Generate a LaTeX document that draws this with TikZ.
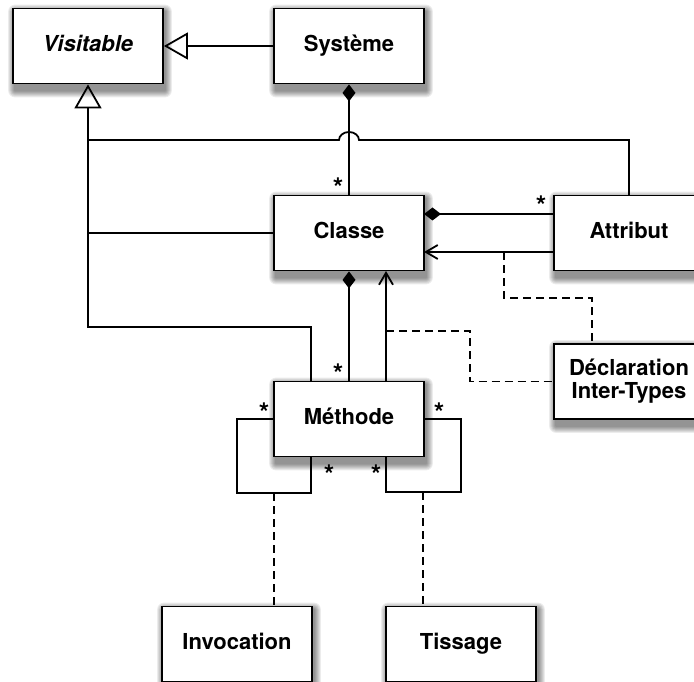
\documentclass[tikz,border=0pt]{standalone}
\usepackage{fontspec}
\setmainfont{TeX Gyre Heros}
\usetikzlibrary{arrows.meta,calc}
\pgfdeclarelayer{bg}
\pgfsetlayers{bg,main}
\tikzset{
  cls/.style={draw=black, line width=1.8pt, fill=white, minimum width=150pt, minimum height=75pt,
    inner sep=2pt, align=center, font=\fontsize{22}{26}\selectfont\bfseries},
  one/.style={text height=16pt, text depth=5pt},
  shadowlayer/.style={fill=black, opacity=0.075},
  ln/.style={line width=1.8pt, line join=miter},
  gen/.style={ln, -{Triangle[open, length=24pt, width=27pt, line width=1.8pt]}},
  comp/.style={ln, -{Diamond[length=17pt, width=13pt]}},
  nav/.style={ln, -{Straight Barb[length=12pt, width=14pt, line width=1.8pt]}},
  dep/.style={ln, dash pattern=on 8pt off 5pt},
  mult/.style={anchor=base, inner sep=0pt, font=\fontsize{27}{30}\selectfont\bfseries},
}
\begin{document}
\begin{tikzpicture}[x=1pt, y=-1pt]
\useasboundingbox (0,0) rectangle (694,682);
% classes
\node[cls, one] (vis) at (88,46) {\itshape Visitable};
\node[cls, one] (sys) at (349,46) {Système};
\node[cls, one] (cla) at (349,233) {Classe};
\node[cls, one] (att) at (629,233) {Attribut};
\node[cls] (dec) at (629,381.5) {Déclaration\\[-3pt]Inter-Types};
\node[cls, one] (met) at (349,419) {Méthode};
\node[cls, one] (inv) at (237,644) {Invocation};
\node[cls, one] (tis) at (461,644) {Tissage};
% soft shadows
\begin{pgfonlayer}{bg}
\foreach \n in {vis,sys,cla,att,dec,met,inv,tis}{
  \foreach \k in {1,...,7}{
    \fill[shadowlayer, rounded corners=\k pt]
      ($(\n.south west)+(3-\k,6+\k)$) rectangle ($(\n.north east)+(1+\k,4-\k)$);
  }
}
\end{pgfonlayer}
% helper coordinates
\coordinate (tM) at (88,327);
\coordinate (tC) at (88,233);
\coordinate (tA) at (88,140);
\coordinate (mg) at (311,382);
\coordinate (ac) at (629,196);
\coordinate (ca1) at (554,214);
\coordinate (ca2) at (424,214);
\coordinate (an1) at (554,252);
\coordinate (an2) at (424,252);
\coordinate (dA) at (504,252);
\coordinate (dAe) at (592,344);
\coordinate (mn1) at (386,382);
\coordinate (mn2) at (386,271);
\coordinate (dM) at (386,331);
\coordinate (lb) at (311,456);
\coordinate (rb) at (386,456);
\coordinate (li) at (274,493);
\coordinate (ri) at (423,492);
\coordinate (ie) at (274,606);
\coordinate (te) at (423,606);
% generalisations
\draw[gen] (sys.west) -- (vis.east);
\draw[gen] (mg) |- (tM) -- (vis.south);
\draw[ln] (cla.west) -- (tC);
\draw[ln] (ac) |- (359,140) arc[start angle=0, end angle=-180, x radius=10, y radius=8] -- (tA);
% compositions
\draw[comp] (cla.north) -- (sys.south);
\draw[comp] (ca1) -- (ca2);
\draw[comp] (met.north) -- (cla.south);
% navigable associations
\draw[nav] (an1) -- (an2);
\draw[nav] (mn1) -- (mn2);
% self loops
\draw[ln] (met.west) -| (237,493) -| (lb);
\draw[ln] (met.east) -| (461,492) -| (rb);
% dashed links
\draw[dep] (dA) |- (592,298) -- (dAe);
\draw[dep] (dM) -| (470,381.5) -- (dec.west);
\draw[dep] (li) -- (ie);
\draw[dep] (ri) -- (te);
% multiplicities
\node[mult] (m1) at (338,198) {*};
\node[mult] (m2) at (541,215) {*};
\node[mult] (m3) at (338,383) {*};
\node[mult] (m4) at (264,422) {*};
\node[mult] (m5) at (439,422) {*};
\node[mult] (m6) at (329,484) {*};
\node[mult] (m7) at (376,484) {*};
\end{tikzpicture}
\end{document}
